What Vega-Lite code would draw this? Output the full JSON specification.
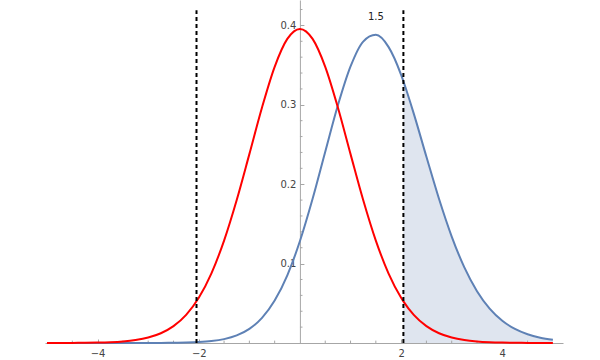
{
  "$schema": "https://vega.github.io/schema/vega-lite/v6.json",
  "width": 518,
  "height": 343,
  "autosize": {"type": "none"},
  "padding": {"left": 45, "top": 0, "right": 37, "bottom": 17},
  "background": "white",
  "config": {
    "view": {"stroke": null},
    "axis": {"domainColor": "#a6a6a6", "tickColor": "#a6a6a6", "labelColor": "#444444", "labelFont": "DejaVu Sans", "labelFontSize": 10, "grid": false, "domainWidth": 1, "tickWidth": 1}
  },
  "datasets": {
    "curves": [
      {"x": -5, "red": 0.0000353, "blue": 0.0000001},
      {"x": -4.75, "red": 0.0000705, "blue": 0.0000002},
      {"x": -4.5, "red": 0.00014, "blue": 0.0000004},
      {"x": -4.25, "red": 0.000277, "blue": 0.0000008},
      {"x": -4, "red": 0.000543, "blue": 0.0000016},
      {"x": -3.75, "red": 0.001052, "blue": 0.000004},
      {"x": -3.5, "red": 0.002004, "blue": 0.00001},
      {"x": -3.25, "red": 0.00375, "blue": 0.0000226},
      {"x": -3, "red": 0.006864, "blue": 0.0000507},
      {"x": -2.75, "red": 0.01224, "blue": 0.0001132},
      {"x": -2.5, "red": 0.02118, "blue": 0.00025},
      {"x": -2.25, "red": 0.03541, "blue": 0.000546},
      {"x": -2, "red": 0.05695, "blue": 0.001166},
      {"x": -1.75, "red": 0.08775, "blue": 0.002427},
      {"x": -1.5, "red": 0.129, "blue": 0.004897},
      {"x": -1.25, "red": 0.1801, "blue": 0.009525},
      {"x": -1, "red": 0.2379, "blue": 0.017759},
      {"x": -0.75, "red": 0.2966, "blue": 0.031598},
      {"x": -0.5, "red": 0.3478, "blue": 0.053397},
      {"x": -0.25, "red": 0.383, "blue": 0.085297},
      {"x": 0, "red": 0.3956, "blue": 0.128401},
      {"x": 0.25, "red": 0.383, "blue": 0.181628},
      {"x": 0.5, "red": 0.3478, "blue": 0.240926},
      {"x": 0.75, "red": 0.2966, "blue": 0.299369},
      {"x": 1, "red": 0.2379, "blue": 0.348326},
      {"x": 1.25, "red": 0.1801, "blue": 0.379655},
      {"x": 1.5, "red": 0.129, "blue": 0.388142},
      {"x": 1.75, "red": 0.08775, "blue": 0.372938},
      {"x": 2, "red": 0.05695, "blue": 0.337639},
      {"x": 2.045, "red": 0.05244, "blue": 0.329635},
      {"x": 2.25, "red": 0.03541, "blue": 0.288932},
      {"x": 2.5, "red": 0.02118, "blue": 0.23456},
      {"x": 2.75, "red": 0.01224, "blue": 0.181346},
      {"x": 3, "red": 0.006864, "blue": 0.134089},
      {"x": 3.25, "red": 0.00375, "blue": 0.095233},
      {"x": 3.5, "red": 0.002004, "blue": 0.065253},
      {"x": 3.75, "red": 0.001052, "blue": 0.04332},
      {"x": 4, "red": 0.000543, "blue": 0.027989},
      {"x": 4.25, "red": 0.000277, "blue": 0.017666},
      {"x": 4.5, "red": 0.00014, "blue": 0.010936},
      {"x": 4.75, "red": 0.0000705, "blue": 0.006668},
      {"x": 5, "red": 0.0000353, "blue": 0.004014}
    ],
    "crit": [{"c": -2.045}, {"c": 2.045}],
    "lab": [{"lx": 1.5, "ly": 0.4106, "t": "1.5"}],
    "minx": [{"v": -4.5}, {"v": -3.5}, {"v": -3}, {"v": -2.5}, {"v": -1.5}, {"v": -1}, {"v": -0.5}, {"v": 0.5}, {"v": 1}, {"v": 1.5}, {"v": 2.5}, {"v": 3}, {"v": 3.5}, {"v": 4.5}],
    "miny": [{"v": 0.02}, {"v": 0.04}, {"v": 0.06}, {"v": 0.08}, {"v": 0.12}, {"v": 0.14}, {"v": 0.16}, {"v": 0.18}, {"v": 0.22}, {"v": 0.24}, {"v": 0.26}, {"v": 0.28}, {"v": 0.32}, {"v": 0.34}, {"v": 0.36}, {"v": 0.38}, {"v": 0.42}]
  },
  "layer": [
    {
      "data": {"name": "curves"},
      "transform": [{"filter": "datum.x >= 2.04"}],
      "mark": {"type": "area", "color": "#dfe5ef", "interpolate": "monotone"},
      "encoding": {
        "x": {"field": "x", "type": "quantitative",
          "scale": {"domain": [-5.04, 5.2], "nice": false, "zero": false},
          "axis": {"title": null, "values": [-4, -2, 2, 4],
            "labelExpr": "replace(datum.label, '-', '\u2212')",
            "tickSize": -4,
            "labelPadding": 9, "labelFlush": false, "labelOverlap": false, "labelBound": false}},
        "y": {"field": "blue", "type": "quantitative",
          "scale": {"domain": [0, 0.432], "nice": false, "zero": true},
          "axis": {"title": null, "offset": -254.9,
            "values": [0.1, 0.2, 0.3, 0.4],
            "format": ".1f",
            "tickSize": -4,
            "labelPadding": 8, "labelFlush": false, "labelOverlap": false, "labelBound": false}}
      }
    },
    {
      "data": {"name": "minx"},
      "mark": {"type": "rule", "color": "#a6a6a6", "strokeWidth": 1},
      "encoding": {
        "x": {"field": "v", "type": "quantitative"},
        "y": {"datum": 0},
        "y2": {"datum": 0.003}
      }
    },
    {
      "data": {"name": "miny"},
      "mark": {"type": "rule", "color": "#a6a6a6", "strokeWidth": 1},
      "encoding": {
        "y": {"field": "v", "type": "quantitative"},
        "x": {"datum": 0},
        "x2": {"datum": 0.05}
      }
    },
    {
      "data": {"name": "curves"},
      "mark": {"type": "line", "color": "#5e81b5", "strokeWidth": 2, "interpolate": "monotone"},
      "encoding": {
        "x": {"field": "x", "type": "quantitative"},
        "y": {"field": "blue", "type": "quantitative"}
      }
    },
    {
      "data": {"name": "curves"},
      "mark": {"type": "line", "color": "#ff0000", "strokeWidth": 2, "interpolate": "monotone"},
      "encoding": {
        "x": {"field": "x", "type": "quantitative"},
        "y": {"field": "red", "type": "quantitative"}
      }
    },
    {
      "data": {"name": "crit"},
      "mark": {"type": "rule", "color": "black", "strokeWidth": 2, "strokeDash": [4, 3]},
      "encoding": {
        "x": {"field": "c", "type": "quantitative"},
        "y": {"datum": 0},
        "y2": {"datum": 0.419}
      }
    },
    {
      "data": {"name": "lab"},
      "mark": {"type": "text", "font": "DejaVu Sans", "fontSize": 10, "color": "#222222", "baseline": "middle", "align": "center"},
      "encoding": {
        "x": {"field": "lx", "type": "quantitative"},
        "y": {"field": "ly", "type": "quantitative"},
        "text": {"field": "t"}
      }
    }
  ]
}
